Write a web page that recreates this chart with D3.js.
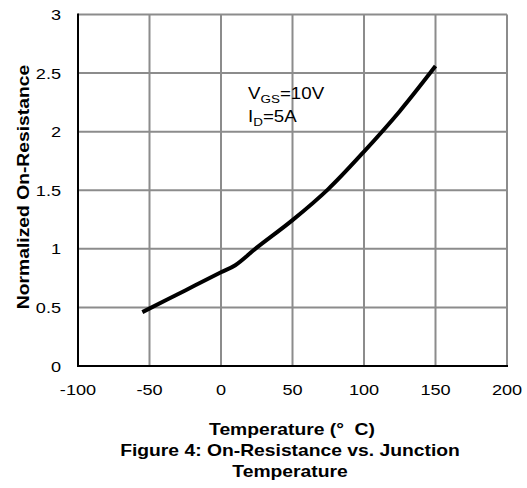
<!DOCTYPE html>
<html>
<head>
<meta charset="utf-8">
<script src="https://cdn.jsdelivr.net/npm/d3@7"></script>
<style>
  body { margin: 0; background: #fff; }
  text { font-family: "Liberation Sans", Arial, sans-serif; }
</style>
</head>
<body>
<svg id="chart" width="527" height="488"></svg>
<script>
// curve
var temps = [-55, -25, 0, 10, 25, 50, 75, 100, 125, 150];
var rds = [0.46, 0.645, 0.80, 0.86, 1.01, 1.245, 1.51, 1.83, 2.175, 2.56];
var xTicks = [-100, -50, 0, 50, 100, 150, 200];
var yTicks = [0, 0.5, 1, 1.5, 2, 2.5, 3];

var svg = d3.select('#chart'),
    pLeft = 78, pRight = 507, pTop = 14.5, pBottom = 366,
    stretch = 1.17;

var x = d3.scaleLinear().domain([-100, 200]).range([pLeft, pRight]);
var y = d3.scaleLinear().domain([0, 3]).range([pBottom, pTop]);

// text is a bit wider than plain Arial in the source
function label(g, tx, ty, size, anchor, bold, rot) {
    var t = g.append('text')
        .attr('transform', 'translate(' + tx + ',' + ty + ')' + (rot ? ' rotate(' + rot + ')' : '') + ' scale(' + stretch + ',1)')
        .attr('text-anchor', anchor).attr('font-size', size);
    if (bold) {
        t.attr('font-weight', 'bold');
    }
    return t;
}

// grid
svg.append('g').selectAll('line').data(xTicks.slice(1)).enter().append('line')
    .attr('x1', function (d) { return x(d); }).attr('x2', function (d) { return x(d); })
    .attr('y1', pTop).attr('y2', pBottom)
    .attr('stroke', '#8c8c8c').attr('stroke-width', 2);
svg.append('g').selectAll('line').data(yTicks.slice(1)).enter().append('line')
    .attr('x1', pLeft).attr('x2', pRight)
    .attr('y1', function (d) { return y(d); }).attr('y2', function (d) { return y(d); })
    .attr('stroke', '#8c8c8c').attr('stroke-width', 2);

// axes lines
svg.append('line').attr('x1', pLeft).attr('x2', pLeft).attr('y1', pTop - 1).attr('y2', pBottom + 1)
    .attr('stroke', '#000').attr('stroke-width', 2);
svg.append('line').attr('x1', pLeft - 1).attr('x2', pRight + 1).attr('y1', pBottom).attr('y2', pBottom)
    .attr('stroke', '#000').attr('stroke-width', 2);

// tick labels
xTicks.forEach(function (d) {
    label(svg, x(d), 395, 15.5, 'middle').text(d);
});
yTicks.forEach(function (d) {
    label(svg, 61, y(d) + 5.5, 15.5, 'end').text(d);
});

// curve
var line = d3.line()
    .x(function (d, i) { return x(temps[i]); })
    .y(function (d) { return y(d); })
    .curve(d3.curveCatmullRom.alpha(0.5));
svg.append('path').datum(rds).attr('d', line)
    .attr('fill', 'none').attr('stroke', '#000').attr('stroke-width', 4)
    .attr('stroke-linecap', 'butt');

// annotation
var a1 = label(svg, 248, 99, 16, 'start');
a1.append('tspan').text('V');
a1.append('tspan').attr('font-size', 11.5).attr('dy', 4).text('GS');
a1.append('tspan').attr('dy', -4).text('=10V');
var a2 = label(svg, 248, 121.5, 16, 'start');
a2.append('tspan').text('I');
a2.append('tspan').attr('font-size', 11.5).attr('dy', 4).text('D');
a2.append('tspan').attr('dy', -4).text('=5A');

// titles
label(svg, 29, 187, 16.5, 'middle', true, -90).text('Normalized On-Resistance');
label(svg, 292, 435, 16.5, 'middle', true).text('Temperature (°  C)').style('white-space', 'pre');
label(svg, 290, 456, 16.5, 'middle', true).text('Figure 4: On-Resistance vs. Junction');
label(svg, 290, 477, 16.5, 'middle', true).text('Temperature');
</script>
</body>
</html>
